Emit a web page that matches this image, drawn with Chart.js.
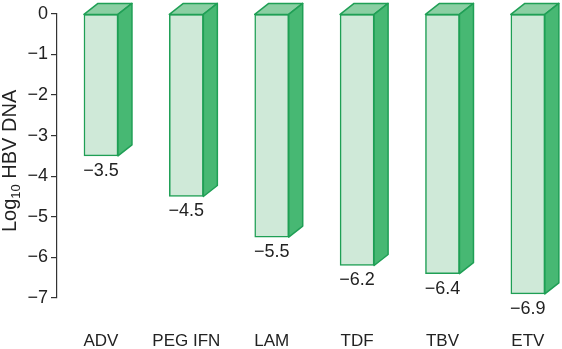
<!DOCTYPE html>
<html>
<head>
<meta charset="utf-8">
<script src="https://cdn.jsdelivr.net/npm/chart.js@4/dist/chart.umd.min.js"></script>
<style>
  html, body { margin: 0; padding: 0; background: #fff; }
  #wrap { width: 562px; height: 349px; }
</style>
</head>
<body>
<div id="wrap"><canvas id="chart"></canvas></div>
<script>
// data
const drugs = ["ADV", "PEG IFN", "LAM", "TDF", "TBV", "ETV"];
const logDrop = [-3.5, -4.5, -5.5, -6.2, -6.4, -6.9];
const yTicks = [0, -1, -2, -3, -4, -5, -6, -7];

const FRONT = "#cfe9d8";
const EDGE = "#1f9f55";
const SIDE = "#47b873";
const TOP = "#8bcfa3";
const FONT = "'Liberation Sans', Arial, Helvetica, sans-serif";

function minus(v) {
  return v < 0 ? "\u2212" + Math.abs(v) : String(v);
}

// side + top faces and the value under each bar
const boxPlugin = {
  id: "box3d",
  afterDatasetsDraw(chart) {
    const ctx = chart.ctx;
    const meta = chart.getDatasetMeta(0);
    const dx = 14, dy = 11;
    ctx.save();
    meta.data.forEach((bar, i) => {
      const p = bar.getProps(["x", "y", "base", "width"], true);
      const l = p.x - p.width / 2, r = p.x + p.width / 2;
      const t = Math.min(p.y, p.base), b = Math.max(p.y, p.base);
      ctx.lineWidth = 1.5;
      ctx.strokeStyle = EDGE;
      ctx.lineJoin = "round";
      // top face
      ctx.beginPath();
      ctx.moveTo(l, t);
      ctx.lineTo(l + dx, t - dy);
      ctx.lineTo(r + dx, t - dy);
      ctx.lineTo(r, t);
      ctx.closePath();
      ctx.fillStyle = TOP;
      ctx.fill();
      ctx.stroke();
      // right face
      ctx.beginPath();
      ctx.moveTo(r, t);
      ctx.lineTo(r + dx, t - dy);
      ctx.lineTo(r + dx, b - dy);
      ctx.lineTo(r, b);
      ctx.closePath();
      ctx.fillStyle = SIDE;
      ctx.fill();
      ctx.stroke();
      // value label
      ctx.fillStyle = "#222";
      ctx.font = "18px " + FONT;
      ctx.textAlign = "center";
      ctx.textBaseline = "middle";
      ctx.fillText(minus(logDrop[i]), p.x, b + 15);
    });
    ctx.restore();
  }
};

// y axis title with a real subscript: Log10 HBV DNA
const yTitlePlugin = {
  id: "yTitle",
  afterDraw(chart) {
    const ctx = chart.ctx;
    const y = chart.scales.y;
    const cy = (y.top + y.bottom) / 2 + 5;
    ctx.save();
    ctx.translate(16, cy);
    ctx.rotate(-Math.PI / 2);
    ctx.fillStyle = "#222";
    ctx.textBaseline = "alphabetic";
    ctx.textAlign = "left";
    const big = "20px " + FONT, small = "13px " + FONT;
    ctx.font = big;
    const w1 = ctx.measureText("Log").width;
    const w3 = ctx.measureText(" HBV DNA").width;
    ctx.font = small;
    const w2 = ctx.measureText("10").width;
    let x = -(w1 + w2 + w3) / 2;
    ctx.font = big;
    ctx.fillText("Log", x, 0);
    x += w1;
    ctx.font = small;
    ctx.fillText("10", x, 4);
    x += w2;
    ctx.font = big;
    ctx.fillText(" HBV DNA", x, 0);
    ctx.restore();
  }
};

new Chart(document.getElementById("chart"), {
  type: "bar",
  data: {
    datasets: [{
      data: logDrop.map((v, i) => ({ x: i, y: v })),
      backgroundColor: FRONT,
      borderColor: EDGE,
      borderWidth: 1.5,
      borderSkipped: false,
      barThickness: 34
    }]
  },
  options: {
    responsive: true,
    maintainAspectRatio: false,
    animation: false,
    layout: { padding: { top: 13, left: 0, right: 0, bottom: 0 } },
    plugins: {
      legend: { display: false },
      tooltip: { enabled: false }
    },
    scales: {
      x: {
        type: "linear",
        offset: false,
        min: -0.515,
        max: 5.4,
        grid: { display: false, drawTicks: false },
        border: { display: false },
        afterBuildTicks(scale) {
          scale.ticks = drugs.map((d, i) => ({ value: i }));
        },
        afterFit(scale) {
          scale.height = 51;
          scale.paddingLeft = 0;
          scale.paddingRight = 0;
        },
        ticks: {
          padding: 33,
          color: "#222",
          font: { family: FONT, size: 17 },
          maxRotation: 0,
          autoSkip: false,
          callback: (v) => drugs[v]
        }
      },
      y: {
        min: -7,
        max: 0,
        afterBuildTicks(scale) {
          scale.ticks = yTicks.map((v) => ({ value: v }));
        },
        afterFit(scale) { scale.width = 57; },
        grid: { drawOnChartArea: false, tickLength: 6, color: "#333", lineWidth: 1.2 },
        border: { display: true, color: "#333", width: 1.2 },
        ticks: {
          padding: 3,
          color: "#222",
          font: { family: FONT, size: 18 },
          callback: (v) => minus(v)
        }
      }
    }
  },
  plugins: [boxPlugin, yTitlePlugin]
});
</script>
</body>
</html>
